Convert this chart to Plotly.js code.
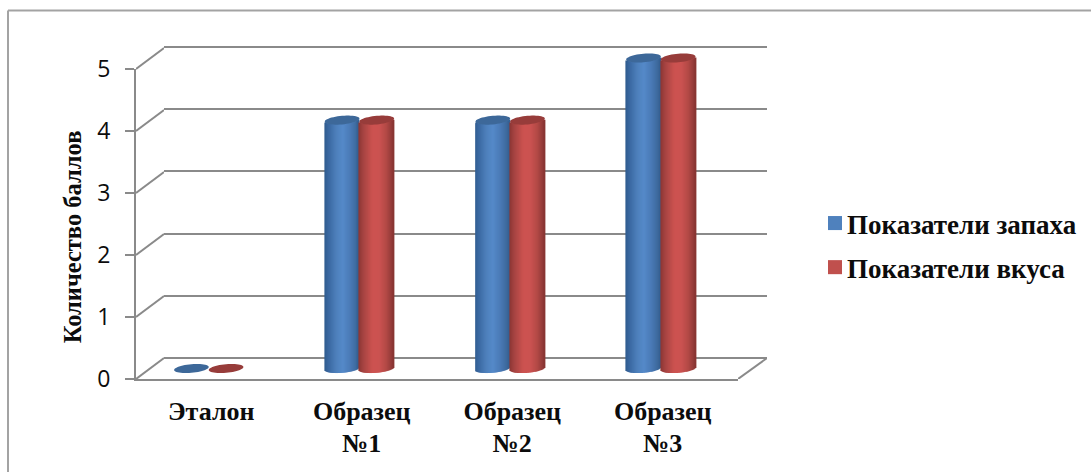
<!DOCTYPE html>
<html lang="ru">
<head>
<meta charset="utf-8">
<title>Органолептическая оценка образцов</title>
<script src="https://cdn.plot.ly/plotly-3.0.1.min.js"></script>
<style>
  html, body { margin: 0; padding: 0; background: #fff; }
  #chart { width: 1091px; height: 472px; }
  .legendtext { transform: translateX(-8px); }
  .legendpoints path { transform: translate(20px, 0) scale(1.17); }
</style>
</head>
<body>
<div id="chart"></div>
<script>
// Chart data
const categoryFirstLine = ['Эталон', 'Образец', 'Образец', 'Образец'];
const categorySecondLine = ['', '№1', '№2', '№3'];
const smellScores = [0, 4, 4, 5];
const tasteScores = [0, 4, 4, 5];
const scoreTicks = [0, 1, 2, 3, 4, 5];

const W = 1091, H = 472;
const serif = '"Liberation Serif", "Times New Roman", serif';
const ink = '#0c0c0c';
const axisGrey = '#8a8a8a';

// Pixel boxes of the three planes of the 3D-style frame
const front = { l: 136, r: 738, t: 69, b: 379 };
const back = { l: 164, r: 767, t: 47, b: 358 };
const mid = { l: 133.4, r: 736.2, zeroY: 368.5 };
const unit = (front.b - front.t) / 5;
const backUnit = (back.b - back.t) / 5;
const barUnit = 62.1;
const depthRise = (front.b - back.b) / unit;
const backPad = 12;

const domX = (a, b) => [a / W, b / W];
const domY = (top, bottom) => [1 - bottom / H, 1 - top / H];

// Cylinder look: width, elliptical ends and a left-to-right shading ramp
const cylWidth = 34.7 / 150.8;
const stripCount = 35;
const ryPx = 4.3, tiltPx = 1.5;
const shadeBlue = [[-1, '#2f5a8c'], [-0.75, '#3b69a2'], [-0.3, '#4f81bd'], [0.05, '#5589c9'], [0.5, '#4a7ab5'], [0.85, '#3d689c'], [1, '#335e91']];
const shadeRed = [[-1, '#8a3533'], [-0.7, '#a84543'], [-0.2, '#cc5350'], [0.2, '#cb5351'], [0.6, '#b24946'], [0.9, '#933b39'], [1, '#85332f']];

function hex(c) { return [1, 3, 5].map(i => parseInt(c.substr(i, 2), 16)); }
function shadeAt(ramp, t) {
  for (let i = 1; i < ramp.length; i++) {
    if (t <= ramp[i][0]) {
      const f = (t - ramp[i - 1][0]) / (ramp[i][0] - ramp[i - 1][0]);
      const a = hex(ramp[i - 1][1]), b = hex(ramp[i][1]);
      return 'rgb(' + a.map((v, k) => Math.round(v + (b[k] - v) * f)).join(',') + ')';
    }
  }
  return ramp[ramp.length - 1][1];
}

// One series: a flat named bar for the legend, then narrow shaded strips on top of it
function cylinderTraces(name, values, side, flat, ramp, group) {
  const centers = values.map((_, i) => i + side * cylWidth / 2);
  const out = [{
    type: 'bar', name, legendgroup: group, x: centers, y: values,
    width: cylWidth * 0.96, xaxis: 'x3', yaxis: 'y3',
    marker: { color: flat, line: { width: 0 } }, hoverinfo: 'skip'
  }];
  const sx = [], sy = [], sb = [], sc = [];
  const sw = cylWidth / stripCount;
  values.forEach((v, i) => {
    for (let k = 0; k < stripCount; k++) {
      const t = -1 + (2 * k + 1) / stripCount;
      sx.push(centers[i] + t * cylWidth / 2);
      sy.push(v);
      sb.push((-ryPx * Math.sqrt(1 - t * t) + tiltPx * t) / barUnit);
      sc.push(shadeAt(ramp, t));
    }
  });
  out.push({
    type: 'bar', showlegend: false, legendgroup: group, x: sx, y: sy, base: sb,
    width: sw * 1.15, xaxis: 'x3', yaxis: 'y3',
    marker: { color: sc, line: { width: 0 } }, hoverinfo: 'skip'
  });
  return out;
}

// Top cap of a cylinder, as a tilted ellipse in data units of the bar axes
function capShape(center, value, fill) {
  const rx = cylWidth / 2;
  let d = '';
  for (let a = 0; a < 48; a++) {
    const ang = a / 48 * 2 * Math.PI;
    const x = center + rx * Math.cos(ang);
    const y = value + (ryPx * Math.sin(ang) + tiltPx * Math.cos(ang)) / barUnit;
    d += (a ? 'L' : 'M') + x.toFixed(4) + ',' + y.toFixed(4);
  }
  return { type: 'path', xref: 'x3', yref: 'y3', path: d + 'Z', fillcolor: fill, line: { width: 0 }, layer: 'above' };
}

const capShapes = [];
smellScores.forEach((v, i) => capShapes.push(capShape(i - cylWidth / 2, v, '#3d6899')));
tasteScores.forEach((v, i) => capShapes.push(capShape(i + cylWidth / 2, v, '#973c3a')));

// Outer chart border: only the top and left edges fall inside the page
const borderStyle = { color: '#a3a3a3', width: 2 };
const borderShapes = [
  { type: 'line', xref: 'paper', yref: 'paper', x0: 8 / W, x1: 1, y0: 1 - 10.5 / H, y1: 1 - 10.5 / H, line: borderStyle },
  { type: 'line', xref: 'paper', yref: 'paper', x0: 8 / W, x1: 8 / W, y0: 1 - 10.5 / H, y1: 0, line: borderStyle }
];

// Diagonals joining the front axis to the back wall
const sideX = [], sideY = [];
scoreTicks.forEach(v => { sideX.push(0, 1, null); sideY.push(v, v + depthRise, null); });
const lineStyle = { color: axisGrey, width: 2 };
const sideYTop = (front.b - back.t) / unit;

const traces = [
  // anchors for the axes that carry no marks of their own
  { type: 'scatter', mode: 'none', x: [0], y: [0], xaxis: 'x', yaxis: 'y', showlegend: false, hoverinfo: 'skip' },
  { type: 'scatter', mode: 'none', x: [0], y: [0], xaxis: 'x2', yaxis: 'y2', showlegend: false, hoverinfo: 'skip' },
  { type: 'scatter', mode: 'lines', x: sideX, y: sideY, xaxis: 'x4', yaxis: 'y4', line: lineStyle, showlegend: false, hoverinfo: 'skip', cliponaxis: false },
  { type: 'scatter', mode: 'lines', x: [0, 1], y: [0, depthRise], xaxis: 'x5', yaxis: 'y5', line: lineStyle, showlegend: false, hoverinfo: 'skip', cliponaxis: false },
  { type: 'scatter', mode: 'none', x: [0], y: [0], xaxis: 'x6', yaxis: 'y', showlegend: false, hoverinfo: 'skip' },
  { type: 'scatter', mode: 'none', x: [0], y: [0], xaxis: 'x', yaxis: 'y7', showlegend: false, hoverinfo: 'skip' },
  ...cylinderTraces('Показатели запаха', smellScores, -1, '#4f81bd', shadeBlue, 'smell'),
  ...cylinderTraces('Показатели вкуса', tasteScores, 1, '#c0504d', shadeRed, 'taste')
];

const hidden = { visible: false, fixedrange: true };
const catTicks = { tickmode: 'array', tickvals: [0, 1, 2, 3], range: [-0.5, 3.5], showgrid: false, zeroline: false };
const catFont = { family: serif, size: 26, color: ink, weight: 700 };

const layout = {
  width: W, height: H,
  margin: { l: 0, r: 0, t: 0, b: 0, pad: 0 },
  paper_bgcolor: '#fff', plot_bgcolor: 'rgba(0,0,0,0)',
  barmode: 'overlay',
  showlegend: true,
  legend: {
    x: 815 / W, xanchor: 'left', y: 1 - 199 / H, yanchor: 'top',
    font: { family: serif, size: 27, color: ink, weight: 700 },
    tracegroupgap: 6, bgcolor: 'rgba(0,0,0,0)', borderwidth: 0, itemclick: false, itemdoubleclick: false
  },
  xaxis: {
    ...catTicks, domain: domX(front.l, front.r), anchor: 'y', ticktext: categoryFirstLine,
    tickfont: catFont, ticks: '', showline: true, linecolor: axisGrey, linewidth: 2,
    ticklabelstandoff: 8
  },
  yaxis: {
    domain: domY(front.t, front.b), anchor: 'x', range: [0, 5], tickvals: scoreTicks, tickmode: 'array',
    showgrid: false, zeroline: false, showline: true, linecolor: axisGrey, linewidth: 2,
    ticks: 'outside', ticklen: 9, tickwidth: 2, tickcolor: axisGrey,
    tickfont: { family: '"Open Sans", sans-serif', size: 23, color: ink }, ticklabelstandoff: 10
  },
  xaxis2: { ...hidden, domain: domX(back.l, back.r), anchor: 'y2', range: [0, 1] },
  // the wall's range is padded so the lines at 0 and 5 are kept as regular grid lines
  yaxis2: {
    domain: domY(back.t - backPad, back.b + backPad), anchor: 'x2',
    range: [-backPad / backUnit, 5 + backPad / backUnit], tickmode: 'array', tickvals: scoreTicks,
    showgrid: true, gridcolor: axisGrey, gridwidth: 2, zeroline: false, showticklabels: false, ticks: '', showline: false
  },
  xaxis3: { ...hidden, domain: domX(mid.l, mid.r), anchor: 'y3', range: [-0.5, 3.5] },
  yaxis3: {
    ...hidden, domain: domY(40, 385), anchor: 'x3',
    range: [(mid.zeroY - 385) / barUnit, (mid.zeroY - 40) / barUnit]
  },
  xaxis4: { ...hidden, domain: domX(front.l, back.l), anchor: 'y4', range: [0, 1] },
  yaxis4: { ...hidden, domain: domY(back.t, front.b), anchor: 'x4', range: [0, sideYTop] },
  xaxis5: { ...hidden, domain: domX(front.r, back.r), anchor: 'y5', range: [0, 1] },
  yaxis5: { ...hidden, domain: domY(back.t, front.b), anchor: 'x5', range: [0, sideYTop] },
  // second line of the category labels sits on its own axis
  xaxis6: {
    ...catTicks, overlaying: 'x', anchor: 'y', side: 'bottom', ticktext: categorySecondLine,
    tickfont: catFont, ticks: '', showline: false, ticklabelstandoff: 46
  },
  // carries only the value-axis title
  yaxis7: {
    domain: domY(132, 342), anchor: 'free', position: 90 / W, range: [0, 1],
    showgrid: false, zeroline: false, showline: false, showticklabels: false, ticks: '',
    title: { text: 'Количество баллов', font: { family: serif, size: 24.5, color: ink, weight: 700 }, standoff: 0 }
  },
  shapes: [...borderShapes, ...capShapes]
};

Plotly.newPlot('chart', traces, layout, { displayModeBar: false, responsive: false, staticPlot: false });
</script>
</body>
</html>
